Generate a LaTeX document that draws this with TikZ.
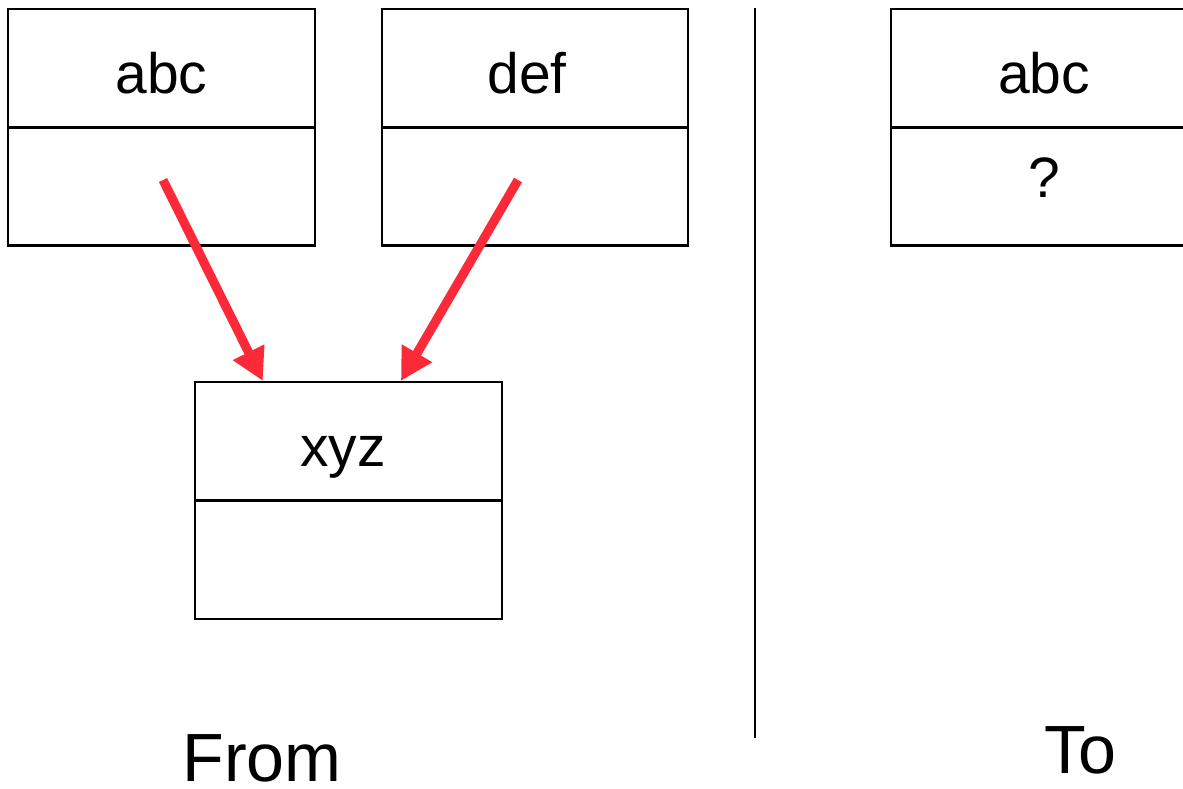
\documentclass[tikz,border=0pt]{standalone}
\usepackage{fontspec}
\setmainfont{Liberation Sans}
\usetikzlibrary{arrows.meta,calc}
\definecolor{arrowred}{RGB}{252,42,56}
\begin{document}
\begin{tikzpicture}[x=0.01cm,y=-0.01cm]
    \tikzstyle{head}=[draw, line width=0.6pt, minimum width=3.06cm, minimum height=1.18cm, inner sep=0pt, text height=0.5cm, text depth=0pt, font=\fontsize{16.2}{19}\selectfont]
    \tikzstyle{body}=[head, text height=0.31cm, text depth=0.1cm]
    \tikzstyle{caption}=[anchor=base, inner sep=0pt, font=\fontsize{19.4}{23}\selectfont]
    \tikzstyle{link}=[arrowred, line width=2.6pt, -{Triangle[length=0.32cm,width=0.33cm]}]
    \useasboundingbox (0,0) rectangle (1183,788);
    \clip (0,0) rectangle (1183,788);
    % left side
    \node[head] (abcHead) at (161.5,68) {abc};
    \node[body] (abcBody) at (161.5,186.5) {};
    \node[head] (defHead) at (535,68) {def\rule{0.16cm}{0pt}};
    \node[body] (defBody) at (535,186.5) {};
    \node[head] (xyzHead) at (348.5,441) {xyz\rule{0.11cm}{0pt}};
    \node[body] (xyzBody) at (348.5,560) {};
    \coordinate (abcFrom) at ($(abcBody.center)+(1.5,-6.5)$);
    \coordinate (defFrom) at ($(defBody.center)+(-17,-6.5)$);
    \draw[link] (abcFrom) -- ($(xyzHead.north west)!0.222!(xyzHead.north east)$);
    \draw[link] (defFrom) -- ($(xyzHead.north west)!0.67!(xyzHead.north east)$);
    \node[caption] (from) at (262,781) {From};
    % separator
    \coordinate (sepTop) at (755,8);
    \coordinate (sepBot) at (755,738);
    \draw[line width=0.6pt] (sepTop) -- (sepBot);
    % right side
    \node[head] (newHead) at (1044,68) {abc};
    \node[body] (newBody) at (1044,186.5) {?};
    \node[caption] (to) at (1080,773) {To};
\end{tikzpicture}
\end{document}
